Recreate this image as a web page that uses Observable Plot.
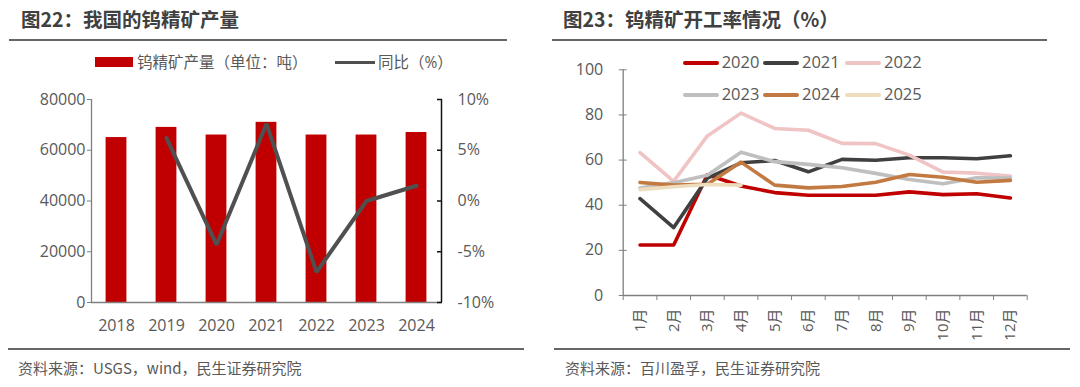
<!DOCTYPE html>
<html>
<head>
<meta charset="utf-8">
<script src="https://cdn.jsdelivr.net/npm/d3@7"></script>
<script src="https://cdn.jsdelivr.net/npm/@observablehq/plot@0.6"></script>
<style>
  html, body { margin: 0; padding: 0; background: #fff; }
  #wrap { position: relative; width: 1080px; height: 387px; overflow: hidden; background: #fff;
    font-family: "Open Sans", "Noto Sans CJK SC", sans-serif; color: #595959; }
  .title { position: absolute; top: 5px; font-family: "Noto Sans CJK SC", sans-serif; font-weight: bold;
    font-size: 19.5px; color: #404040; white-space: nowrap; line-height: 28px; }
  .rule { position: absolute; height: 2px; background: #666; }
  .src { position: absolute; top: 358px; font-family: "Noto Sans CJK SC", sans-serif; font-size: 15px;
    color: #595959; white-space: nowrap; line-height: 20px; }
  .leg { position: absolute; font-size: 15.5px; white-space: nowrap; line-height: 20px; color: #595959; }
  .sw { position: absolute; }
  .panel { position: absolute; top: 0; }
</style>
</head>
<body>
<div id="wrap">
  <div class="title" style="left:21px;">图22：我国的钨精矿产量</div>
  <div class="rule" style="left:9px; width:498px; top:39px;"></div>
  <div class="title" style="left:563px;">图23：钨精矿开工率情况（%）</div>
  <div class="rule" style="left:552px; width:495px; top:39px;"></div>
  <div class="rule" style="left:8px; width:516px; top:348px;"></div>
  <div class="rule" style="left:554px; width:516px; top:348px;"></div>
  <div class="src" style="left:18px;">资料来源：USGS，wind，民生证券研究院</div>
  <div class="src" style="left:565px;">资料来源：百川盈孚，民生证券研究院</div>
  <div id="left" class="panel" style="left:0;"></div>
  <div id="right" class="panel" style="left:540px;"></div>
  <div id="legL"></div>
  <div id="legR"></div>
</div>
<script>
// ---------- Left chart data ----------
const years = [2018, 2019, 2020, 2021, 2022, 2023, 2024];
const output = [65000, 69000, 66000, 71000, 66000, 66000, 67000];
const yoy = [null, 6.2, -4.3, 7.6, -7.0, 0.0, 1.5];
const leftTicks = [0, 20000, 40000, 60000, 80000];
const yoyTicks = [-10, -5, 0, 5, 10];
const leftLegend = ["钨精矿产量（单位：吨）", "同比（%）"];

// ---------- Right chart data ----------
const months = ["1月", "2月", "3月", "4月", "5月", "6月", "7月", "8月", "9月", "10月", "11月", "12月"];
const seriesNames = ["2020", "2021", "2022", "2023", "2024", "2025"];
const rate2020 = [22.4, 22.4, 53.5, 48.5, 45.6, 44.4, 44.4, 44.4, 45.9, 44.7, 45.1, 43.2];
const rate2021 = [42.9, 30.1, 52.0, 58.8, 59.8, 54.8, 60.3, 59.9, 61.0, 61.0, 60.6, 61.9];
const rate2022 = [63.3, 50.6, 70.7, 80.8, 74.0, 73.2, 67.4, 67.3, 62.2, 54.7, 54.2, 52.9];
const rate2023 = [47.6, 50.0, 53.3, 63.5, 59.3, 58.1, 56.6, 54.1, 51.4, 49.5, 52.2, 52.0];
const rate2024 = [50.1, 48.9, 49.3, 59.1, 48.9, 47.7, 48.3, 50.2, 53.6, 52.4, 50.2, 51.0];
const rate2025 = [46.9, 48.2, 49.2, 48.9];
const rightTicks = [0, 20, 40, 60, 80, 100];
const seriesColors = ["#C00000", "#404040", "#F0C4C4", "#BFBFBF", "#C27A42", "#EEDDBD"];

// ---------- Left chart ----------
const yoyMin = -10, yoyMax = 10, leftMax = 80000;
const toLeft = p => (p - yoyMin) / (yoyMax - yoyMin) * leftMax;
const fromLeft = v => Math.round(v / leftMax * (yoyMax - yoyMin) + yoyMin);
const leftData = years.map((y, i) => ({year: y, value: output[i], yoy: yoy[i]}));

const leftPlot = Plot.plot({
  width: 540, height: 387,
  marginLeft: 91, marginRight: 99, marginTop: 99, marginBottom: 85,
  style: {fontSize: "16px", fontFamily: "'Open Sans', 'Noto Sans CJK SC', sans-serif", color: "#595959", background: "transparent"},
  x: {domain: [years[0] - 0.5, years[years.length - 1] + 0.5], label: null},
  y: {domain: [0, leftMax], label: null},
  marks: [
    Plot.rectY(leftData, {x1: d => d.year - 0.5, x2: d => d.year + 0.5, y: "value", fill: "#C00000", insetLeft: 14.6, insetRight: 14.6}),
    Plot.line(leftData.filter(d => d.yoy != null), {x: "year", y: d => toLeft(d.yoy), stroke: "#505050", strokeWidth: 4, strokeLinejoin: "miter"}),
    Plot.ruleX([years[0] - 0.5], {stroke: "#7f7f7f", strokeWidth: 1.3}),
    Plot.ruleX([years[years.length - 1] + 0.5], {stroke: "#111", strokeWidth: 1.5}),
    Plot.ruleY([0], {stroke: "#7f7f7f", strokeWidth: 1.3}),
    Plot.axisX({ticks: years, tickFormat: d => String(d), tickSize: 0, tickPadding: 17, label: null}),
    Plot.axisY({ticks: leftTicks, tickFormat: d => String(d), tickSize: 4, tickPadding: 2, stroke: "#7f7f7f", label: null}),
    Plot.axisY({anchor: "right", ticks: yoyTicks.map(toLeft), tickFormat: d => fromLeft(d) + "%", tickSize: -5, tickPadding: 21, stroke: "#111", strokeWidth: 1.5, label: null})
  ]
});
document.getElementById("left").appendChild(leftPlot);

// ---------- Right chart ----------
const allRates = [rate2020, rate2021, rate2022, rate2023, rate2024, rate2025];
const monthIdx = months.map((m, i) => i + 1);
const boundaries = [0.5, ...monthIdx.map(i => i + 0.5)];

const rightPlot = Plot.plot({
  width: 540, height: 387,
  marginLeft: 82.7, marginRight: 53.3, marginTop: 69.3, marginBottom: 92,
  style: {fontSize: "16px", fontFamily: "'Open Sans', 'Noto Sans CJK SC', sans-serif", color: "#595959", background: "transparent"},
  x: {domain: [0.5, months.length + 0.5], label: null},
  y: {domain: [0, 100], label: null},
  marks: [
    Plot.ruleX([0.5], {stroke: "#808080", strokeWidth: 1.3}),
    Plot.ruleY([0], {stroke: "#808080", strokeWidth: 1.3}),
    ...allRates.map((vals, s) => Plot.line(vals.map((v, i) => ({m: i + 1, v})), {x: "m", y: "v", stroke: seriesColors[s], strokeWidth: 3.6})),
    Plot.axisX({ticks: boundaries, tickFormat: () => "", tickSize: 5, stroke: "#808080", label: null}),
    Plot.axisX({ticks: monthIdx, tickFormat: i => months[i - 1], tickSize: 0, tickPadding: 13, tickRotate: -90, fontSize: "15px", label: null}),
    Plot.axisY({ticks: rightTicks, tickSize: 4, tickPadding: 16, stroke: "#808080", label: null}),
    Plot.axisY({ticks: rightTicks, tickSize: -4, tickFormat: () => "", stroke: "#808080", label: null})
  ]
});
document.getElementById("right").appendChild(rightPlot);

// ---------- Legends ----------
const legL = document.getElementById("legL");
legL.innerHTML =
  `<div class="sw" style="left:95px; top:57px; width:38px; height:10px; background:#C00000;"></div>` +
  `<div class="leg" style="left:137px; top:52px;">${leftLegend[0]}</div>` +
  `<div class="sw" style="left:335px; top:60.5px; width:40px; height:3.5px; background:#505050;"></div>` +
  `<div class="leg" style="left:378px; top:52px;">${leftLegend[1]}</div>`;

const legR = document.getElementById("legR");
const colX = [682.7, 763, 845];
const rowY = [62.7, 95];
legR.innerHTML = seriesNames.map((n, i) => {
  const x = colX[i % 3], y = rowY[Math.floor(i / 3)];
  return `<div class="sw" style="left:${x}px; top:${y - 2}px; width:36px; height:4px; border-radius:2px; background:${seriesColors[i]};"></div>` +
         `<div class="leg" style="left:${x + 39}px; top:${y - 11}px; font-size:16.5px;">${n}</div>`;
}).join("");
</script>
</body>
</html>
